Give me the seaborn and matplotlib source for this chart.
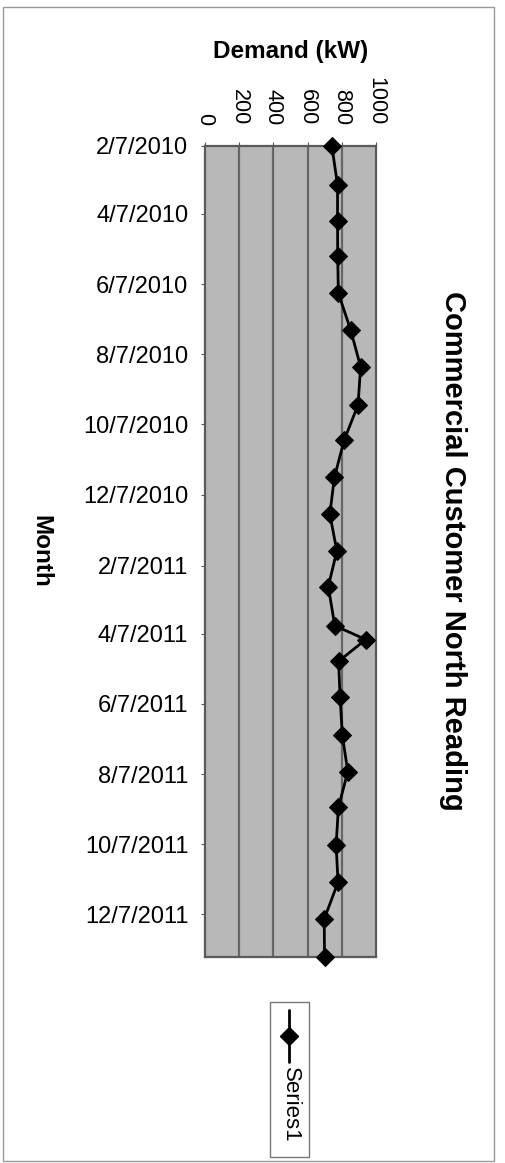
import matplotlib
matplotlib.use("Agg")
import matplotlib.pyplot as plt
from matplotlib.lines import Line2D
from matplotlib.patches import Rectangle
import seaborn as sns
import pandas as pd

# ---- data ----
reading_dates = ["2010-02-07", "2010-03-13", "2010-04-13", "2010-05-14", "2010-06-15",
                 "2010-07-17", "2010-08-18", "2010-09-20", "2010-10-21", "2010-11-22",
                 "2010-12-24", "2011-01-25", "2011-02-25", "2011-03-31", "2011-04-12",
                 "2011-05-01", "2011-06-01", "2011-07-04", "2011-08-05", "2011-09-05",
                 "2011-10-08", "2011-11-09", "2011-12-11", "2012-01-13"]
demand_kw = [742, 775, 775, 776, 780, 852, 910, 895, 813, 757,
             730, 771, 721, 759, 940, 781, 790, 803, 835, 780,
             767, 778, 697, 699]
tick_dates = ["2010-02-07", "2010-04-07", "2010-06-07", "2010-08-07", "2010-10-07",
              "2010-12-07", "2011-02-07", "2011-04-07", "2011-06-07", "2011-08-07",
              "2011-10-07", "2011-12-07"]
tick_labels = ["2/7/2010", "4/7/2010", "6/7/2010", "8/7/2010", "10/7/2010",
               "12/7/2010", "2/7/2011", "4/7/2011", "6/7/2011", "8/7/2011",
               "10/7/2011", "12/7/2011"]
demand_ticks = [0, 200, 400, 600, 800, 1000]
series_name = "Series1"
title_text = "Commercial Customer North Reading"
x_title = "Demand (kW)"
y_title = "Month"

df = pd.DataFrame({"date": pd.to_datetime(reading_dates), "demand": demand_kw})

sns.set_theme(style="white")
plt.rcParams["font.family"] = ["Liberation Sans", "DejaVu Sans"]

W, H = 506, 1163
fig = plt.figure(figsize=(W / 100, H / 100), dpi=100)
fig.patch.set_facecolor("white")

L, R, T, B = 205, 376, 146, 957
ax = fig.add_axes([L / W, 1 - B / H, (R - L) / W, (B - T) / H])
ax.set_facecolor("#b8b8b8")

sns.lineplot(data=df, x="demand", y="date", orient="y", sort=False, estimator=None,
             color="black", linewidth=2, marker="D", markersize=9,
             markeredgecolor="black", markerfacecolor="black", ax=ax, legend=False,
             clip_on=False, zorder=5)

ax.set_xlim(0, 1000)
ax.set_ylim(df["date"].iloc[-1], df["date"].iloc[0])

ax.set_xticks(demand_ticks)
ax.set_xticklabels([str(v) for v in demand_ticks], rotation=-90, fontsize=15.5,
                   va="bottom", ha="center")
ax.xaxis.tick_top()
ax.xaxis.set_label_position("top")
ax.tick_params(axis="x", which="both", top=True, bottom=False, direction="out",
               length=3, width=0.8, color="#555555", pad=12, labelcolor="black")

ax.set_yticks(pd.to_datetime(tick_dates))
ax.set_yticklabels(tick_labels, fontsize=17)
ax.tick_params(axis="y", left=True, right=False, direction="out", length=3,
               width=0.8, color="#555555", pad=9, labelcolor="black")

ax.grid(False)
for v in demand_ticks[1:-1]:
    ax.axvline(v, color="#666666", linewidth=1.6, zorder=0.5)

for s in ax.spines.values():
    s.set_color("#5a5a5a")
    s.set_linewidth(1.6)

ax.set_xlabel(x_title, fontsize=17.5, fontweight="bold", color="black")
ax.xaxis.set_label_coords(0.5, (H - 63 - (H - B)) / (B - T))
ax.xaxis.label.set_va("bottom")

ax.set_ylabel(y_title, fontsize=17.5, fontweight="bold", color="black", rotation=-90,
              va="center", ha="center")
ax.yaxis.set_label_coords((41 - L) / (R - L), 0.5)

fig.text(453 / W, 1 - 551 / H, title_text, rotation=-90, fontsize=21,
         fontweight="bold", ha="center", va="center", color="black")

# legend (rotated, drawn manually)
fig.add_artist(Rectangle((270 / W, 1 - 1157 / H), 39 / W, 155 / H,
                         transform=fig.transFigure, fill=False,
                         edgecolor="#777777", linewidth=1))
lx = 289 / W
fig.add_artist(Line2D([lx, lx], [1 - 1010 / H, 1 - 1062 / H],
                      transform=fig.transFigure, color="black", linewidth=2))
fig.add_artist(Line2D([lx], [1 - 1036 / H], transform=fig.transFigure,
                      marker="D", markersize=9, color="black", linestyle="none"))
fig.text(290 / W, 1 - 1067 / H, series_name, rotation=-90, fontsize=16,
         ha="center", va="top", color="black")

# chart area border
fig.add_artist(Rectangle((3 / W, 1 - 1161 / H), 491 / W, 1154 / H,
                         transform=fig.transFigure, fill=False,
                         edgecolor="#999999", linewidth=1))

fig.savefig("out.png", dpi=100)
